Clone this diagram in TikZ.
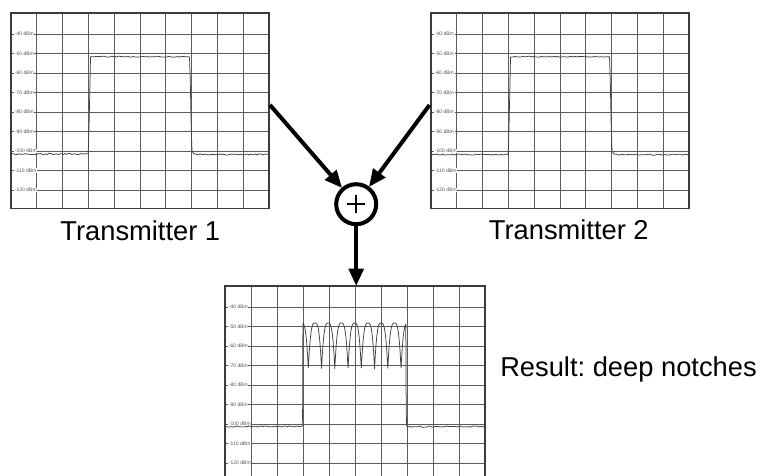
\documentclass[tikz,border=0pt]{standalone}
\usepackage{fontspec}
\setmainfont{Liberation Sans}
\usetikzlibrary{arrows.meta}
\definecolor{gridc}{HTML}{5C5C5C}
\definecolor{framec}{HTML}{3C3C3C}
\definecolor{tracec}{HTML}{404040}
\definecolor{labc}{HTML}{555555}
\newcommand\spectrumplot[5]{% x0, y0, width, name, trace
  \begin{scope}[shift={(#1,#2)}]
    \foreach \i in {1,...,9} \draw[gline] ({#3*\i/10},0) -- ({#3*\i/10},195.3);
    \foreach \k in {1,...,9} \draw[gline] (0,{21+19.5*(\k-1)}) -- (#3,{21+19.5*(\k-1)});
    \foreach \v [count=\k] in {40,50,...,120}
      \node[dbl] (#4-\v) at (3.2,{21+19.5*(\k-1)}) {-\v\ dBm};
    #5
    \draw[frm] (0,0) rectangle (#3,195.3);
  \end{scope}}
\begin{document}
\frenchspacing
\begin{tikzpicture}[x=1pt,y=-1pt,
  gline/.style={draw=gridc,line width=0.9pt},
  frm/.style={draw=framec,line width=1.5pt},
  trc/.style={draw=tracec,line width=0.75pt,line join=round},
  dbl/.style={anchor=west,fill=white,inner sep=0.6pt,text=labc,font=\fontsize{5}{6}\selectfont},
  bigarrow/.style={line width=4pt,-{Triangle[length=17pt,width=16pt,line width=0pt]}},
  sumnode/.style={circle,draw,line width=4pt,minimum size=40pt,inner sep=0pt},
  bigtext/.style={font=\fontsize{27.3}{32}\selectfont,anchor=base,inner sep=0pt},
  declare function={dd(\t)=abs(mod(\t-56.8,13.25)-6.625)/6.625; arch(\t)=37+46*dd(\t)*dd(\t)*dd(\t);}]
\useasboundingbox (0,0) rectangle (766,475);
\clip (0,0) rectangle (766,475);
\fill[white] (0,0) rectangle (766,475);
\pgfmathsetseed{7}
% Transmitter 1
\spectrumplot{11}{13}{258}{ta}{%
  \draw[trc] plot[domain=0:77.2,samples=48] (\x,{141+0.6*rand}) -- (78,114) -- (79,70) -- (79.5,44)
    -- plot[domain=80.5:178.5,samples=60] (\x,{43.7+0.5*rand}) -- (179.3,69) -- (180.2,114) -- (181,138) -- (183,141)
    -- plot[domain=184:258,samples=45] (\x,{141.4+0.6*rand});}
% Transmitter 2
\spectrumplot{431}{13}{258}{tb}{%
  \draw[trc] plot[domain=0:77.2,samples=48] (\x,{141.5+0.6*rand}) -- (78,114) -- (79,70) -- (79.5,44)
    -- plot[domain=80.5:178.5,samples=60] (\x,{43.7+0.5*rand}) -- (179.3,69) -- (180.2,114) -- (181,138) -- (183,141)
    -- plot[domain=184:258,samples=45] (\x,{141.6+0.6*rand});}
% Result
\spectrumplot{225}{286}{260}{tr}{%
  \draw[trc] plot[domain=0:77.2,samples=48] (\x,{140.5+0.6*rand}) -- (77.7,120)
    -- plot[domain=77.9:180.8,samples=640] (\x,{arch(\x)}) -- (181.2,125) -- (181.6,139.5)
    -- plot[domain=183:260,samples=46] (\x,{140.6+0.6*rand});}
% summing junction and arrows
\node[sumnode] (sum) at (356.2,204.2) {};
\draw[line width=2pt] ([xshift=-8.8pt]sum.center) -- ([xshift=8.8pt]sum.center);
\draw[line width=2pt] ([yshift=-8.8pt]sum.center) -- ([yshift=8.8pt]sum.center);
\coordinate (s1) at (270,105);
\coordinate (s2) at (429.5,105);
\coordinate (r) at (356.2,285.5);
\draw[bigarrow] (s1) -- (sum);
\draw[bigarrow] (s2) -- (sum);
\draw[bigarrow] (sum) -- (r);
% labels
\node[bigtext] (l1) at (140.3,240) {Transmitter 1};
\node[bigtext] (l2) at (568.8,239) {Transmitter 2};
\node[bigtext] (l3) at (628.5,376.7) {Result: deep notches};
\end{tikzpicture}
\end{document}
